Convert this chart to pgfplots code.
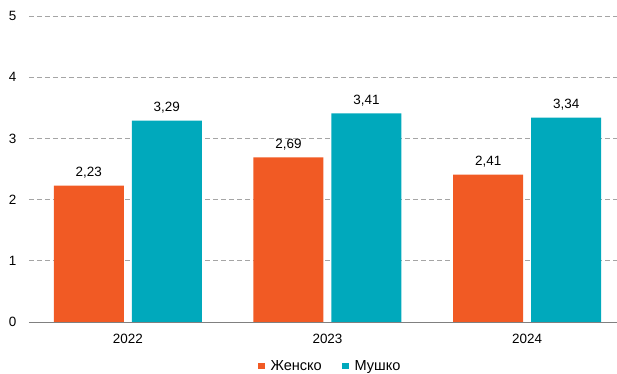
\documentclass[border=0pt]{standalone}
\usepackage{pgfplots}
\pgfplotsset{compat=1.18}
\usepackage{fontspec}
\setmainfont{Liberation Sans}
\definecolor{zorange}{RGB}{241,90,36}
\definecolor{zteal}{RGB}{0,169,188}
\begin{document}
\begin{tikzpicture}
\begin{axis}[
  scale only axis,
  width=588bp, height=306bp,
  xmin=-0.495, xmax=2.45,
  ymin=0, ymax=5,
  ytick={0,1,2,3,4,5},
  xtick={0,1,2},
  xticklabels={2022,2023,2024},
  axis line style={draw=none},
  major tick length=0pt,
  ymajorgrids,
  grid style={color={rgb,255:red,165;green,165;blue,165}, dash pattern=on 5bp off 3bp, line width=0.8pt},
  ybar,
  bar width=70bp,
  bar shift auto=false,
  tick label style={font=\fontsize{13.5}{15}\selectfont},
  /pgf/number format/assume math mode=true,
  yticklabel style={xshift=-9bp},
  xticklabel style={yshift=-9bp},
  nodes near coords,
  nodes near coords style={font=\fontsize{13.5}{15}\selectfont, /pgf/number format/.cd, use comma, fixed, fixed zerofill, precision=2, assume math mode=true, /tikz/.cd, yshift=4bp},
  legend style={at={(axis description cs:0.512,-0.144)}, anchor=center, draw=none, legend columns=2, font=\fontsize{14.6}{16}\selectfont,
    /tikz/every even column/.append style={column sep=18bp},
    /tikz/every odd column/.append style={column sep=4bp}},
  legend image code/.code={\fill[#1] (0bp,-3.4bp) rectangle (6.8bp,3.4bp);},
  clip=false,
]
\addplot[fill=zorange, draw=none, bar shift=-39bp] coordinates {(0,2.23) (1,2.69) (2,2.41)};
\addplot[fill=zteal, draw=none, bar shift=39bp] coordinates {(0,3.29) (1,3.41) (2,3.34)};
\draw[gray, line width=0.8pt] (axis cs:-0.495,0) -- (axis cs:2.45,0);
\legend{Женско, Мушко}
\end{axis}
\pgfresetboundingbox
\path (-29bp,-52bp) rectangle (588bp,322bp);
\end{tikzpicture}
\end{document}
